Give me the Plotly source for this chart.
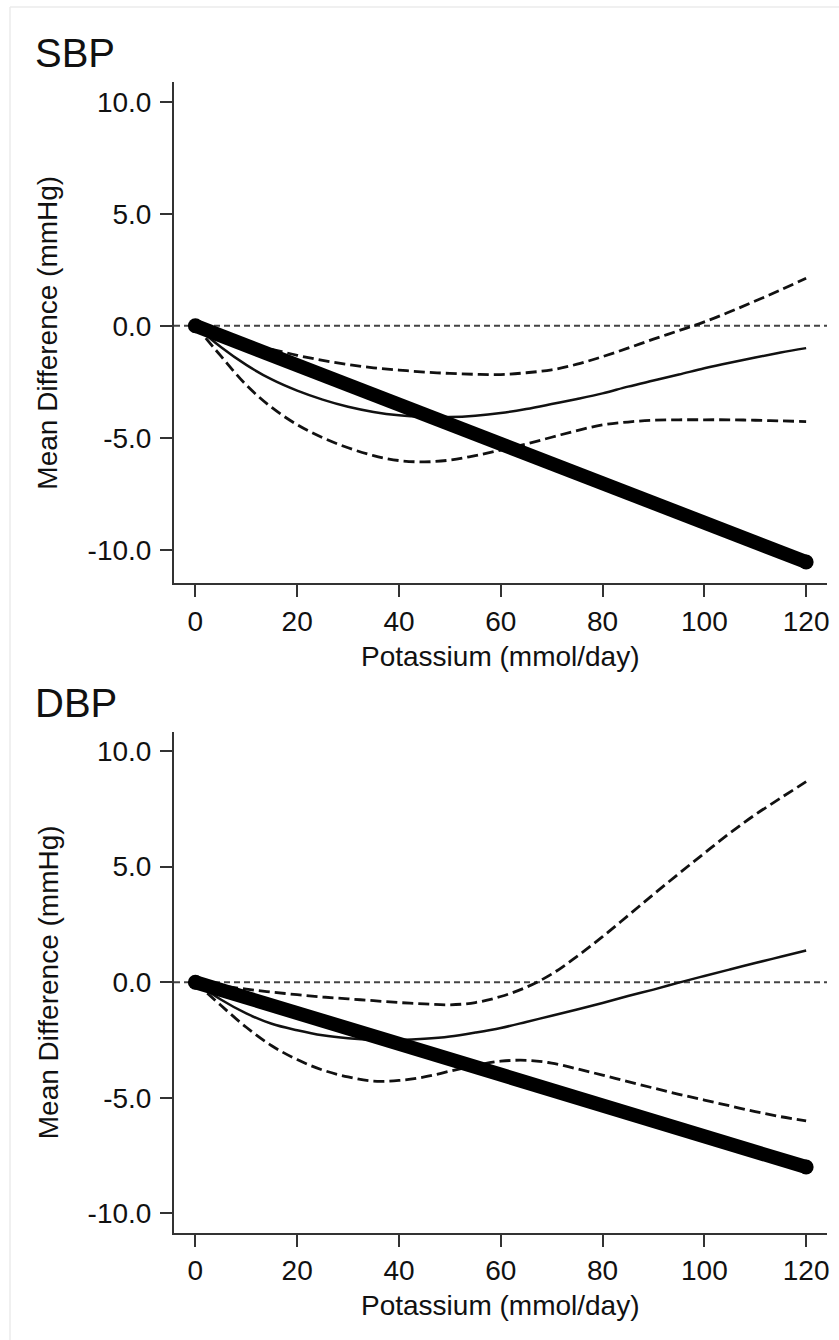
import plotly.graph_objects as go

# ---------------- data ----------------
potassium = [0, 5, 10, 15, 20, 25, 30, 35, 40, 45, 50, 55, 60,
             65, 70, 75, 80, 85, 90, 95, 100, 105, 110, 115, 120]

sbp_estimate = [0.0, -0.95, -1.75, -2.4, -2.9, -3.3, -3.62, -3.85, -4.0, -4.07, -4.08, -4.02, -3.9,
                -3.72, -3.5, -3.27, -3.02, -2.72, -2.45, -2.18, -1.9, -1.65, -1.42, -1.2, -1.0]
sbp_upper = [0.0, -0.4, -0.78, -1.05, -1.32, -1.55, -1.73, -1.88, -1.98, -2.07, -2.13, -2.17, -2.18,
             -2.1, -1.97, -1.72, -1.38, -1.0, -0.6, -0.22, 0.17, 0.62, 1.1, 1.6, 2.12]
sbp_lower = [0.0, -1.35, -2.65, -3.65, -4.42, -5.0, -5.45, -5.8, -6.02, -6.08, -6.0, -5.8, -5.55,
             -5.28, -4.98, -4.68, -4.43, -4.3, -4.22, -4.2, -4.2, -4.2, -4.22, -4.25, -4.28]

dbp_estimate = [0.0, -0.75, -1.35, -1.8, -2.08, -2.3, -2.43, -2.5, -2.5, -2.45, -2.35, -2.18, -1.98,
                -1.72, -1.45, -1.18, -0.9, -0.6, -0.32, -0.02, 0.27, 0.55, 0.83, 1.1, 1.37]
dbp_upper = [0.0, -0.15, -0.3, -0.43, -0.54, -0.64, -0.72, -0.8, -0.88, -0.94, -0.98, -0.88, -0.62,
             -0.22, 0.35, 1.12, 1.97, 2.88, 3.8, 4.7, 5.58, 6.45, 7.25, 7.97, 8.68]
dbp_lower = [0.0, -1.0, -1.95, -2.75, -3.35, -3.8, -4.1, -4.28, -4.25, -4.1, -3.85, -3.6, -3.42,
             -3.38, -3.5, -3.75, -4.02, -4.3, -4.58, -4.85, -5.1, -5.35, -5.6, -5.82, -6.0]

linear_x = [0, 120]
sbp_linear = [0.0, -10.55]
dbp_linear = [0.0, -8.0]

x_ticks = [0, 20, 40, 60, 80, 100, 120]
y_tick_vals = [10, 5, 0, -5, -10]
y_tick_text = ["10.0", "5.0", "0.0", "-5.0", "-10.0"]

panel_titles = ["SBP", "DBP"]
x_title = "Potassium (mmol/day)"
y_title = "Mean Difference (mmHg)"

# ---------------- layout helpers ----------------
W, H = 839, 1340
FONT = "Liberation Sans, Arial, Helvetica, sans-serif"
INK = "#111111"
AXIS = "#333333"


def px_x(p):
    return p / W


def px_y(p):
    return 1 - p / H


fig = go.Figure()

panels = [
    dict(est=sbp_estimate, up=sbp_upper, lo=sbp_lower, lin=sbp_linear,
         xa="x", ya="y", top=82, bottom=583.3, yrange=[-11.5, 10.88], title_y=53),
    dict(est=dbp_estimate, up=dbp_upper, lo=dbp_lower, lin=dbp_linear,
         xa="x2", ya="y2", top=731.7, bottom=1232.7, yrange=[-10.84, 10.84], title_y=703),
]

for i, p in enumerate(panels):
    for ys in (p["up"], p["lo"]):
        fig.add_trace(go.Scatter(x=potassium, y=ys, mode="lines", xaxis=p["xa"], yaxis=p["ya"],
                                 line=dict(color=INK, width=2.8, dash="11px,5px", shape="spline"),
                                 showlegend=False, hoverinfo="skip"))
    fig.add_trace(go.Scatter(x=potassium, y=p["est"], mode="lines", xaxis=p["xa"], yaxis=p["ya"],
                             line=dict(color=INK, width=2.5, shape="spline"),
                             showlegend=False, hoverinfo="skip"))
    fig.add_trace(go.Scatter(x=linear_x, y=p["lin"], mode="lines+markers", xaxis=p["xa"], yaxis=p["ya"],
                             line=dict(color="#000000", width=14),
                             marker=dict(color="#000000", size=15),
                             showlegend=False, hoverinfo="skip"))

    # zero reference line
    fig.add_shape(type="line", xref=f"{p['xa']} domain", yref=p["ya"], x0=0, x1=1, y0=0, y1=0,
                  line=dict(color="#444444", width=2, dash="6px,4px"), layer="below")

    # panel title
    fig.add_annotation(text=panel_titles[i], xref="paper", yref="paper",
                       x=px_x(33), y=px_y(p["title_y"]), xanchor="left", yanchor="middle",
                       showarrow=False, font=dict(family=FONT, size=40, color=INK))
    # y title
    fig.add_annotation(text=y_title, xref="paper", yref="paper", textangle=-90,
                       x=px_x(48), y=px_y((p["top"] + p["bottom"]) / 2),
                       xanchor="center", yanchor="middle",
                       showarrow=False, font=dict(family=FONT, size=28, color=INK))
    # x title
    fig.add_annotation(text=x_title, xref="paper", yref="paper",
                       x=px_x((174 + 827) / 2), y=px_y(p["bottom"] + 73),
                       xanchor="center", yanchor="middle",
                       showarrow=False, font=dict(family=FONT, size=28, color=INK))

axis_common = dict(showgrid=False, zeroline=False, showline=True, linecolor=AXIS, linewidth=2,
                   ticks="outside", ticklen=12, tickwidth=2, tickcolor=AXIS,
                   tickfont=dict(family=FONT, size=28, color=INK), automargin=False)

x_dom = [px_x(174), px_x(827)]
layout_axes = {}
for i, p in enumerate(panels):
    sfx = "" if i == 0 else "2"
    layout_axes[f"xaxis{sfx}"] = dict(axis_common, domain=x_dom, range=[-4.2, 124.1],
                                      tickvals=x_ticks, anchor=p["ya"], ticklabelstandoff=0)
    layout_axes[f"yaxis{sfx}"] = dict(axis_common, domain=[px_y(p["bottom"]), px_y(p["top"])],
                                      range=p["yrange"], tickvals=y_tick_vals, ticktext=y_tick_text,
                                      anchor=p["xa"], ticklabelstandoff=3)

# faint frame of the original picture
fig.add_shape(type="line", xref="paper", yref="paper", x0=px_x(10), x1=px_x(10), y0=0, y1=px_y(7),
              line=dict(color="#ebebeb", width=1.5))
fig.add_shape(type="line", xref="paper", yref="paper", x0=px_x(10), x1=1, y0=px_y(7), y1=px_y(7),
              line=dict(color="#ebebeb", width=1.5))

fig.update_layout(width=W, height=H, margin=dict(l=0, r=0, t=0, b=0),
                  paper_bgcolor="white", plot_bgcolor="white", template="none",
                  showlegend=False, **layout_axes)

fig.write_html("out.html")
